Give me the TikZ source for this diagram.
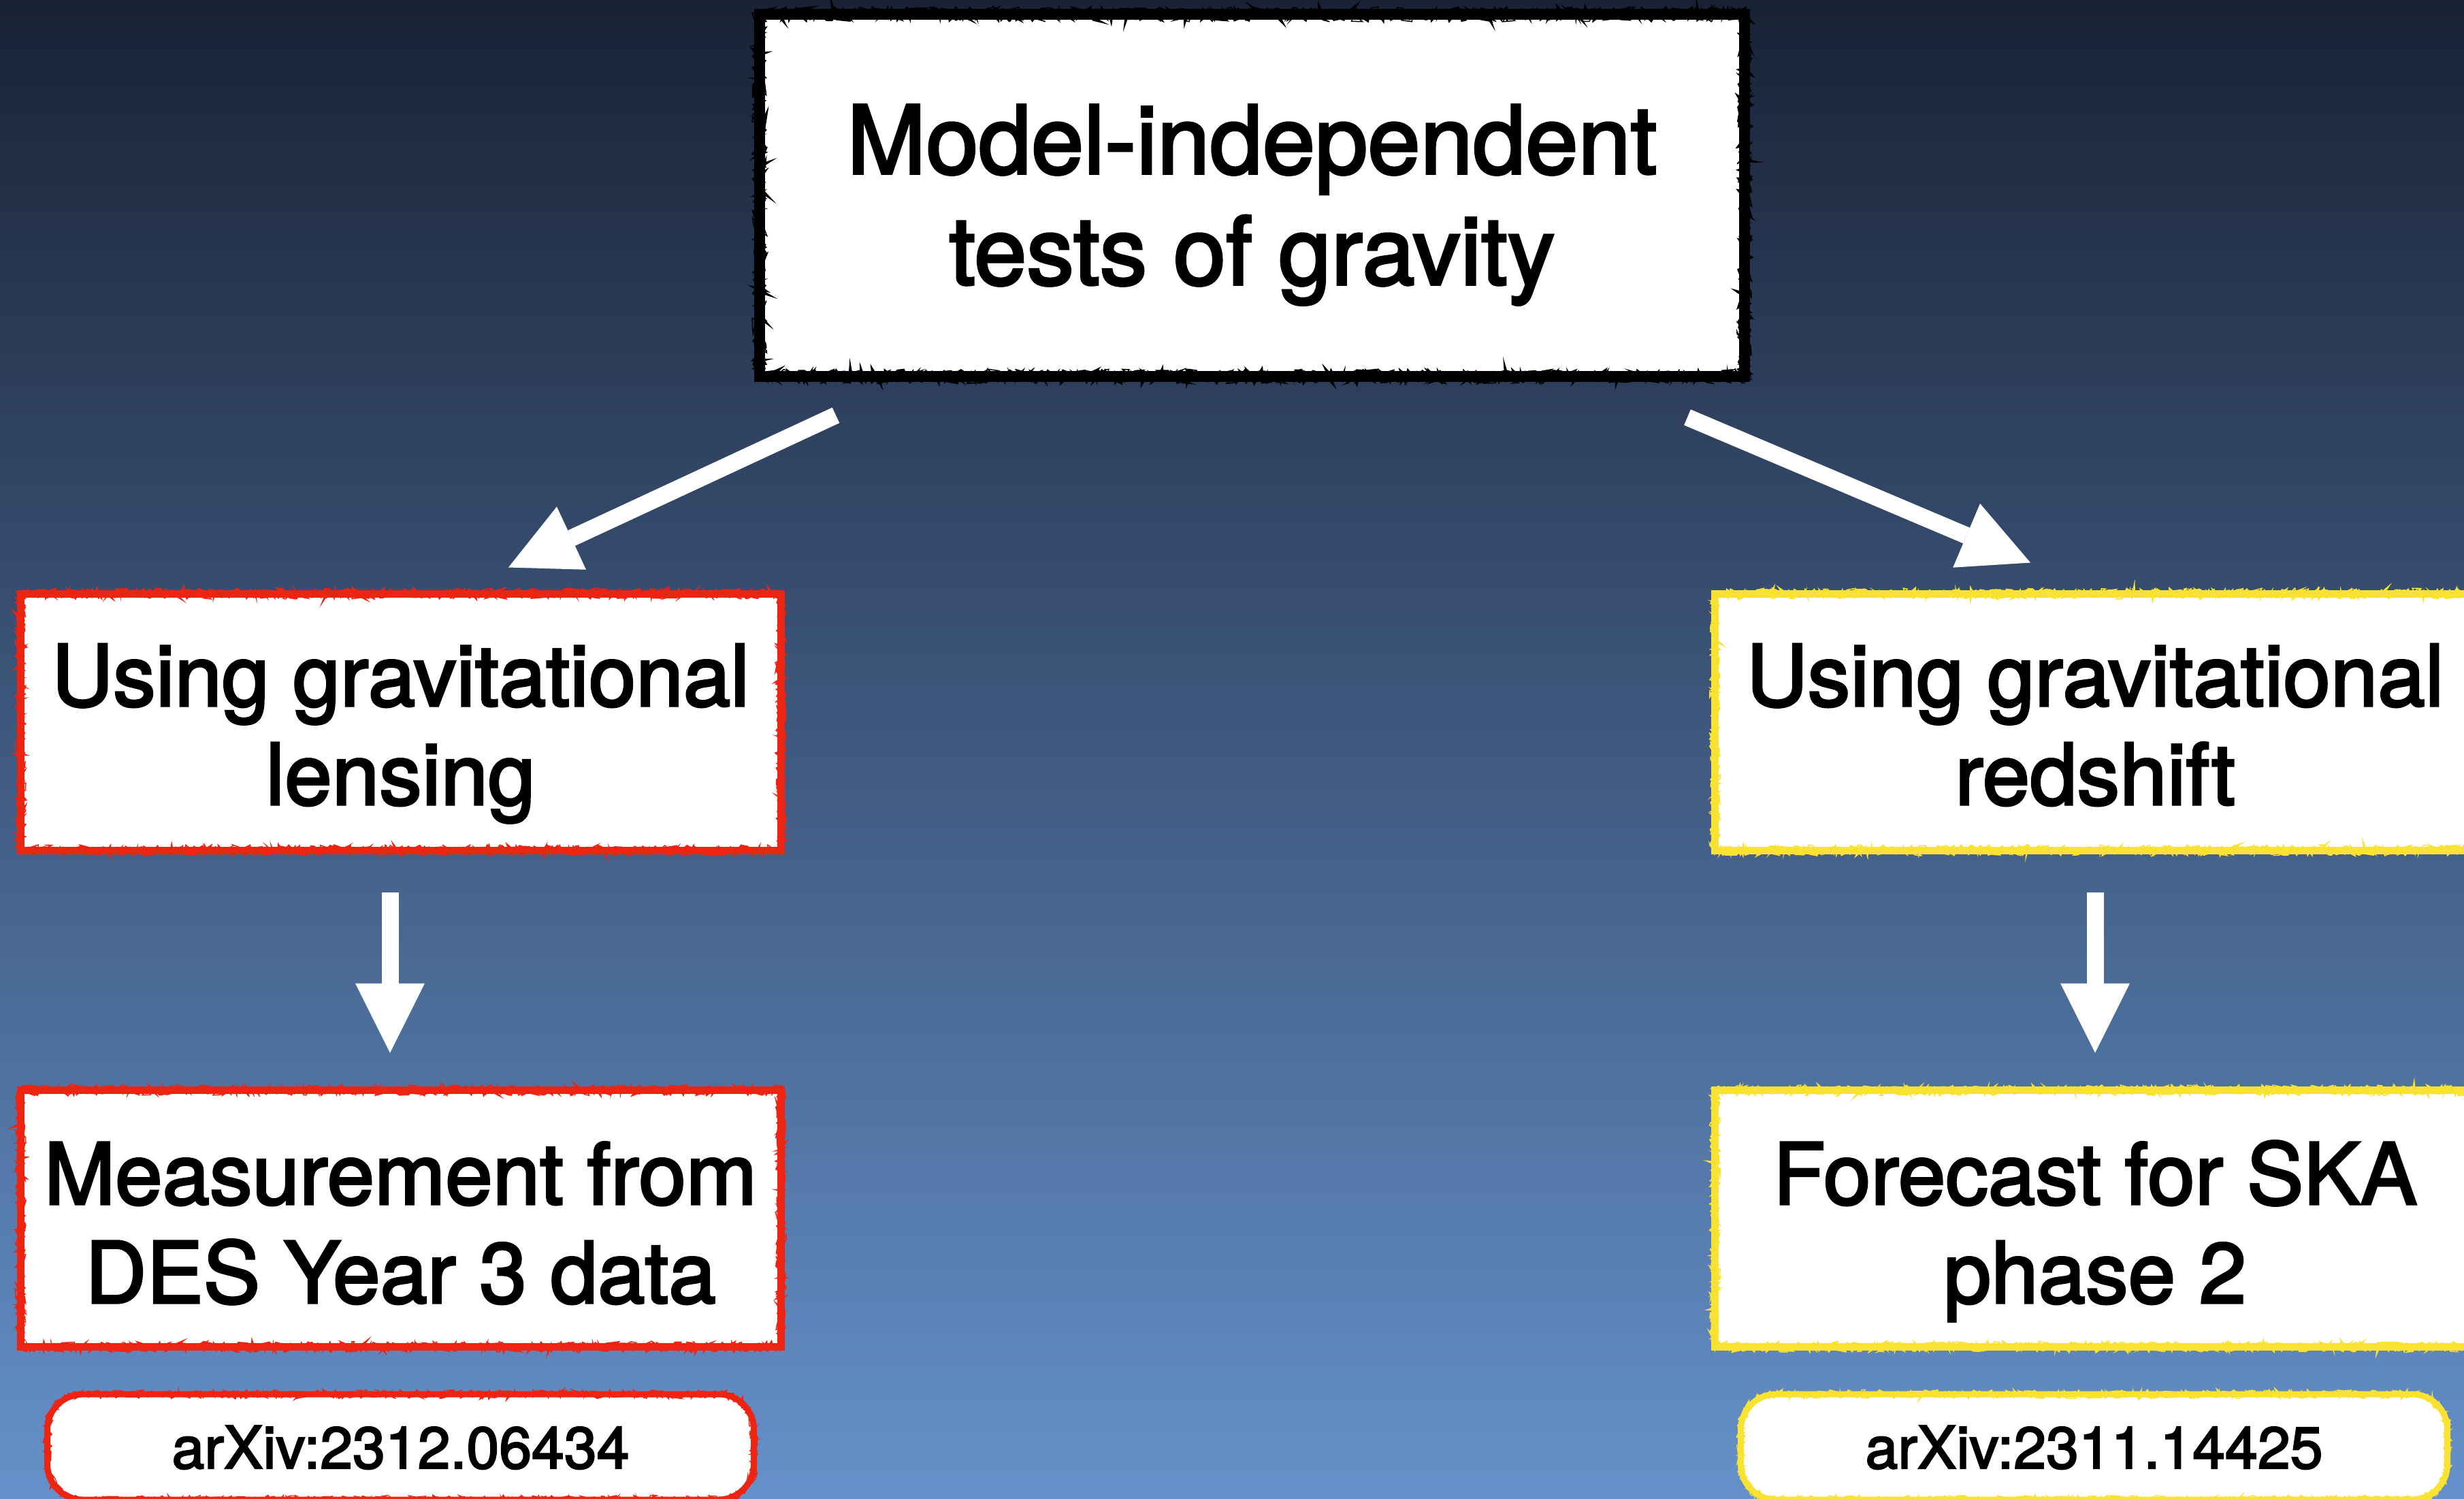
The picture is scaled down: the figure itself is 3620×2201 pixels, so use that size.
\documentclass[tikz,border=0pt]{standalone}
\usepackage{fontspec}
\newfontfamily\labelfamily[FakeBold=2.6]{TeX Gyre Heros}
\usetikzlibrary{arrows.meta,calc,decorations.pathmorphing}

\definecolor{bgtop}{RGB}{25,34,53}
\definecolor{bgbot}{RGB}{101,145,202}
\definecolor{chalkred}{RGB}{237,36,18}
\definecolor{chalkyellow}{RGB}{249,226,50}

\newcommand{\titlefont}{\labelfamily\fontsize{139}{163}\selectfont}
\newcommand{\boxfont}{\labelfamily\fontsize{125}{145}\selectfont}
\newcommand{\pillfont}{\labelfamily\fontsize{86}{100}\selectfont}

\begin{document}
\pgfmathsetseed{7}
\begin{tikzpicture}[x=1pt, y=-1pt,
  rough/.style n args={3}{postaction={draw=#1, line width=#2, sharp corners, decorate,
      decoration={random steps, segment length=5pt, amplitude=#3}}},
  finerough/.style n args={3}{postaction={draw=#1, line width=#2, sharp corners, decorate,
      decoration={random steps, segment length=2.5pt, amplitude=#3}}},
  chalkbox/.style={rectangle, draw=#1, fill=white, line width=11pt, inner sep=0pt,
      minimum width=1117pt, minimum height=377pt,
      rough={#1}{3.5pt}{6.5pt}, finerough={#1}{1.5pt}{8pt}},
  pill/.style={rectangle, draw=#1, fill=white, line width=9pt, inner sep=0pt,
      rounded corners=52pt, minimum width=1038pt, minimum height=155pt,
      rough={#1}{3pt}{5.5pt}, finerough={#1}{1.2pt}{6.5pt}},
  label text/.style={anchor=base, inner sep=0pt, text=black},
  bigarrow/.style={draw=white, line width=25pt,
      -{Triangle[length=102pt, width=102pt, line width=0pt]}},
]
\useasboundingbox (0,0) rectangle (3620,2201);
\shade[top color=bgtop, bottom color=bgbot] (0,0) rectangle (3620,2201);

% title box
\node[rectangle, draw=black, fill=white, line width=16pt, inner sep=0pt,
      minimum width=1447pt, minimum height=532pt,
      rough={black}{4.5pt}{9pt}, finerough={black}{1.5pt}{11pt}] (top) at (1839.5,287) {};
\node[label text, font=\titlefont] (toptxt) at ($(top.center)+(0,131)$)
  {\begin{tabular}[b]{@{}c@{}}Model-independent\\tests of gravity\end{tabular}};

% lensing branch
\node[chalkbox=chalkred] (lens) at (588.5,1060.5) {};
\node[label text, font=\boxfont] (lenstxt) at ($(lens.center)+(0,121.5)$)
  {\begin{tabular}[b]{@{}c@{}}Using gravitational\\lensing\end{tabular}};
\node[chalkbox=chalkred] (des) at (588.5,1790) {};
\node[label text, font=\boxfont] (destxt) at ($(des.center)+(0,124)$)
  {\begin{tabular}[b]{@{}c@{}}Measurement from\\DES Year 3 data\end{tabular}};
\node[pill=chalkred] (arxl) at (588.5,2125.5) {};
\node[label text, font=\pillfont] (arxltxt) at ($(arxl.center)+(0,31.5)$) {arXiv:2312.06434};

% redshift branch
\node[chalkbox=chalkyellow] (red) at (3078,1060.5) {};
\node[label text, font=\boxfont] (redtxt) at ($(red.center)+(0,121.5)$)
  {\begin{tabular}[b]{@{}c@{}}Using gravitational\\redshift\end{tabular}};
\node[chalkbox=chalkyellow] (ska) at (3078,1790) {};
\node[label text, font=\boxfont] (skatxt) at ($(ska.center)+(0,124)$)
  {\begin{tabular}[b]{@{}c@{}}Forecast for SKA\\phase 2\end{tabular}};
\node[pill=chalkyellow] (arxr) at (3076.5,2125.5) {};
\node[label text, font=\pillfont] (arxrtxt) at ($(arxr.center)+(0,31.5)$) {arXiv:2311.14425};

% arrow end points, kept clear of the boxes
\coordinate (a1s) at ($(top.south west)+(120,49)$);
\coordinate (a1e) at ($(lens.north)+(158.5,-33)$);
\coordinate (a2s) at ($(top.south east)+(-92,52)$);
\coordinate (a2e) at ($(red.north)+(-95,-40)$);
\coordinate (a3s) at ($(lens.south)+(-15.5,56)$);
\coordinate (a3e) at ($(des.north)+(-15.5,-49.5)$);
\coordinate (a4s) at ($(red.south)+(0,56)$);
\coordinate (a4e) at ($(ska.north)+(0,-49.5)$);

\draw[bigarrow] (a1s) -- (a1e);
\draw[bigarrow] (a2s) -- (a2e);
\draw[bigarrow] (a3s) -- (a3e);
\draw[bigarrow] (a4s) -- (a4e);
\end{tikzpicture}
\end{document}
